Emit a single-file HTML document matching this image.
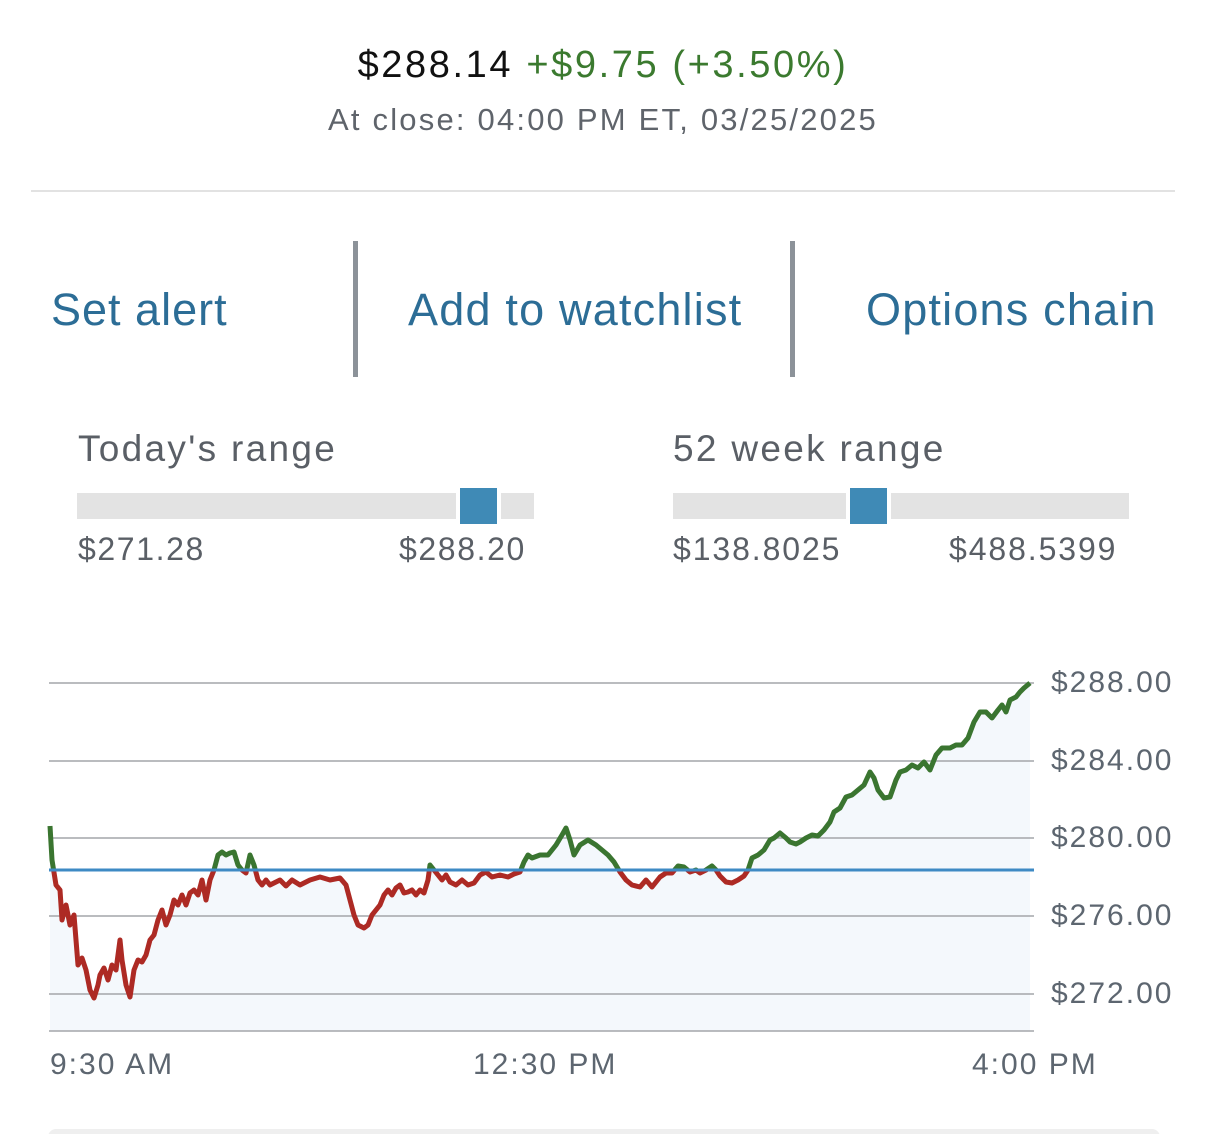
<!DOCTYPE html>
<html><head><style>
body{margin:0;width:1206px;height:1134px;background:#fff;font-family:"Liberation Sans",sans-serif;position:relative;overflow:hidden}
.a{position:absolute;white-space:nowrap}
</style></head><body>
<div class="a" style="left:0;width:1206px;text-align:center;top:44px;font-size:38px;letter-spacing:2.6px"><span style="color:#111">$288.14</span> <span style="color:#3b7a2f">+$9.75 (+3.50%)</span></div>
<div class="a" style="left:0;width:1206px;text-align:center;top:102px;font-size:31px;color:#5f646b;letter-spacing:2.2px">At close: 04:00 PM ET, 03/25/2025</div>
<div class="a" style="left:31px;width:1144px;top:190px;height:2px;background:#e2e2e2"></div>
<div class="a" style="left:51px;top:284px;font-size:45px;color:#2c6d96;letter-spacing:1px">Set alert</div>
<div class="a" style="left:353px;top:241px;width:5px;height:136px;background:#8c9299"></div>
<div class="a" style="left:408px;top:284px;font-size:45px;color:#2c6d96;letter-spacing:1.2px">Add to watchlist</div>
<div class="a" style="left:790px;top:241px;width:5px;height:136px;background:#8c9299"></div>
<div class="a" style="left:866px;top:284px;font-size:45px;color:#2c6d96;letter-spacing:1.2px">Options chain</div>

<div class="a" style="left:78px;top:428px;font-size:37px;color:#5a5f66;letter-spacing:2.3px">Today's range</div>
<div class="a" style="left:77px;top:493px;width:457px;height:26px;background:#e3e3e3"></div>
<div class="a" style="left:456px;top:486px;width:45px;height:40px;background:#fff"></div>
<div class="a" style="left:460px;top:488px;width:37px;height:36px;background:#3f8ab6"></div>
<div class="a" style="left:78px;top:531px;font-size:32px;color:#5a5f66;letter-spacing:1.6px">$271.28</div>
<div class="a" style="left:399px;top:531px;font-size:32px;color:#5a5f66;letter-spacing:1.6px">$288.20</div>

<div class="a" style="left:673px;top:428px;font-size:37px;color:#5a5f66;letter-spacing:2.3px">52 week range</div>
<div class="a" style="left:673px;top:493px;width:456px;height:26px;background:#e3e3e3"></div>
<div class="a" style="left:846px;top:486px;width:45px;height:40px;background:#fff"></div>
<div class="a" style="left:850px;top:488px;width:37px;height:36px;background:#3f8ab6"></div>
<div class="a" style="left:673px;top:531px;font-size:32px;color:#5a5f66;letter-spacing:1.9px">$138.8025</div>
<div class="a" style="left:949px;top:531px;font-size:32px;color:#5a5f66;letter-spacing:1.9px">$488.5399</div>

<svg class="a" style="left:0;top:0" width="1206" height="1134">
<defs>
<clipPath id="up"><rect x="0" y="0" width="1206" height="870"/></clipPath>
<clipPath id="dn"><rect x="0" y="870" width="1206" height="300"/></clipPath>
</defs>
<polygon fill="#f4f8fc" points="50,826 52,860 56,885 60,890 62,920 66,905 70,925 74,915 78,965 82,958 86,970 90,990 94,998 98,985 100,975 104,968 108,980 112,965 116,970 120,940 122,960 126,985 130,997 134,970 138,960 142,962 146,955 150,940 154,935 158,920 162,910 166,925 170,915 174,900 178,905 182,895 186,905 190,893 194,890 198,895 202,880 206,900 210,880 214,870 218,855 222,852 226,855 230,853 234,852 238,865 242,870 246,873 250,855 254,865 258,880 262,885 266,880 270,885 274,883 280,880 286,886 292,880 300,885 310,880 320,877 330,880 340,878 346,885 350,900 354,915 358,925 364,928 368,925 372,915 376,910 380,905 384,895 388,890 392,895 396,888 400,885 404,893 408,892 412,890 416,895 420,890 424,893 428,880 430,865 434,870 438,875 442,880 446,875 450,882 456,885 462,880 468,885 474,883 480,875 486,872 492,877 500,875 508,877 514,874 520,872 524,862 528,855 532,858 540,855 548,855 556,845 562,835 566,828 570,840 574,855 580,845 588,840 596,845 602,850 608,855 614,862 620,872 626,880 632,885 640,887 646,880 652,887 656,882 660,877 666,873 672,873 678,866 684,867 690,872 696,870 700,873 706,870 712,866 716,870 720,876 726,882 732,883 738,880 744,876 748,870 752,858 758,855 764,850 770,840 774,838 780,833 786,838 790,842 796,844 800,842 806,838 812,835 818,836 824,830 830,822 834,812 840,808 846,797 852,795 858,790 864,785 870,772 874,778 878,790 884,798 890,797 896,780 900,772 906,770 912,765 918,768 924,762 930,770 936,755 942,748 950,748 956,745 962,745 968,738 974,722 980,712 986,712 992,718 998,710 1002,705 1006,712 1010,700 1016,697 1020,692 1024,688 1030,683 1030,1031 50,1031"/>
<g stroke="#a3a6aa" stroke-width="1.5">
<line x1="49" y1="683" x2="1034" y2="683"/><line x1="49" y1="761" x2="1034" y2="761"/><line x1="49" y1="838" x2="1034" y2="838"/><line x1="49" y1="916" x2="1034" y2="916"/><line x1="49" y1="994" x2="1034" y2="994"/><line x1="49" y1="1031" x2="1034" y2="1031"/>
</g>
<g fill="none" stroke-width="5" stroke-linejoin="round">
<polyline clip-path="url(#up)" stroke="#3a7530" points="50,826 52,860 56,885 60,890 62,920 66,905 70,925 74,915 78,965 82,958 86,970 90,990 94,998 98,985 100,975 104,968 108,980 112,965 116,970 120,940 122,960 126,985 130,997 134,970 138,960 142,962 146,955 150,940 154,935 158,920 162,910 166,925 170,915 174,900 178,905 182,895 186,905 190,893 194,890 198,895 202,880 206,900 210,880 214,870 218,855 222,852 226,855 230,853 234,852 238,865 242,870 246,873 250,855 254,865 258,880 262,885 266,880 270,885 274,883 280,880 286,886 292,880 300,885 310,880 320,877 330,880 340,878 346,885 350,900 354,915 358,925 364,928 368,925 372,915 376,910 380,905 384,895 388,890 392,895 396,888 400,885 404,893 408,892 412,890 416,895 420,890 424,893 428,880 430,865 434,870 438,875 442,880 446,875 450,882 456,885 462,880 468,885 474,883 480,875 486,872 492,877 500,875 508,877 514,874 520,872 524,862 528,855 532,858 540,855 548,855 556,845 562,835 566,828 570,840 574,855 580,845 588,840 596,845 602,850 608,855 614,862 620,872 626,880 632,885 640,887 646,880 652,887 656,882 660,877 666,873 672,873 678,866 684,867 690,872 696,870 700,873 706,870 712,866 716,870 720,876 726,882 732,883 738,880 744,876 748,870 752,858 758,855 764,850 770,840 774,838 780,833 786,838 790,842 796,844 800,842 806,838 812,835 818,836 824,830 830,822 834,812 840,808 846,797 852,795 858,790 864,785 870,772 874,778 878,790 884,798 890,797 896,780 900,772 906,770 912,765 918,768 924,762 930,770 936,755 942,748 950,748 956,745 962,745 968,738 974,722 980,712 986,712 992,718 998,710 1002,705 1006,712 1010,700 1016,697 1020,692 1024,688 1030,683"/>
<polyline clip-path="url(#dn)" stroke="#ad2a24" points="50,826 52,860 56,885 60,890 62,920 66,905 70,925 74,915 78,965 82,958 86,970 90,990 94,998 98,985 100,975 104,968 108,980 112,965 116,970 120,940 122,960 126,985 130,997 134,970 138,960 142,962 146,955 150,940 154,935 158,920 162,910 166,925 170,915 174,900 178,905 182,895 186,905 190,893 194,890 198,895 202,880 206,900 210,880 214,870 218,855 222,852 226,855 230,853 234,852 238,865 242,870 246,873 250,855 254,865 258,880 262,885 266,880 270,885 274,883 280,880 286,886 292,880 300,885 310,880 320,877 330,880 340,878 346,885 350,900 354,915 358,925 364,928 368,925 372,915 376,910 380,905 384,895 388,890 392,895 396,888 400,885 404,893 408,892 412,890 416,895 420,890 424,893 428,880 430,865 434,870 438,875 442,880 446,875 450,882 456,885 462,880 468,885 474,883 480,875 486,872 492,877 500,875 508,877 514,874 520,872 524,862 528,855 532,858 540,855 548,855 556,845 562,835 566,828 570,840 574,855 580,845 588,840 596,845 602,850 608,855 614,862 620,872 626,880 632,885 640,887 646,880 652,887 656,882 660,877 666,873 672,873 678,866 684,867 690,872 696,870 700,873 706,870 712,866 716,870 720,876 726,882 732,883 738,880 744,876 748,870 752,858 758,855"/>
</g>
<line x1="49" y1="870" x2="1034" y2="870" stroke="#3e8ac4" stroke-width="3"/>
<g font-size="30" fill="#5d6670" font-family="Liberation Sans, sans-serif" letter-spacing="2">
<text x="1051" y="692">$288.00</text><text x="1051" y="770">$284.00</text><text x="1051" y="847">$280.00</text><text x="1051" y="925">$276.00</text><text x="1051" y="1003">$272.00</text>
<text x="50" y="1074">9:30 AM</text><text x="473" y="1074">12:30 PM</text><text x="972" y="1074">4:00 PM</text>
</g>
<rect x="48" y="1129" width="1112" height="20" rx="8" fill="#efefef"/>
</svg>
</body></html>
